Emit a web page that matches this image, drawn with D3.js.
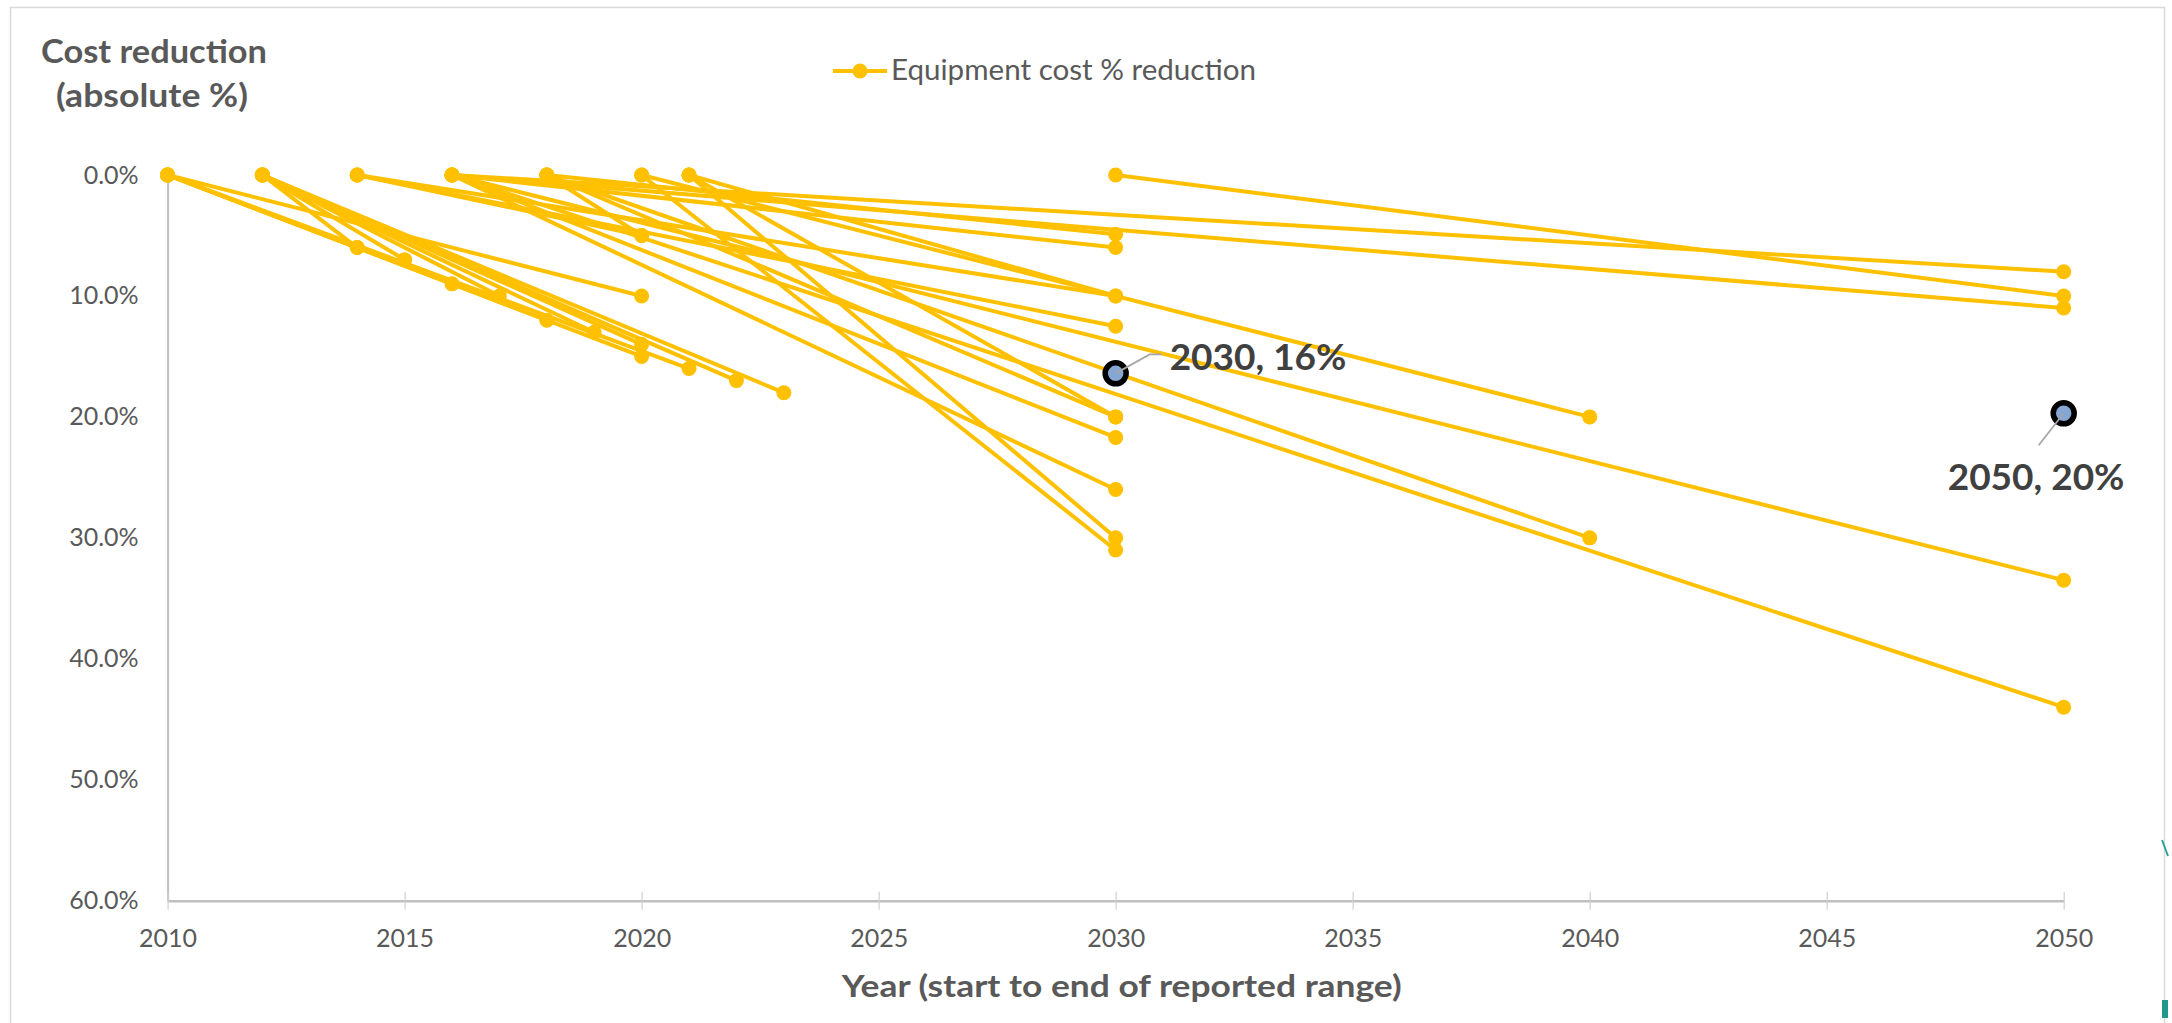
<!DOCTYPE html>
<html>
<head>
<meta charset="utf-8">
<script src="https://cdn.jsdelivr.net/npm/d3@7"></script>
<style>
  html, body { margin: 0; padding: 0; background: #ffffff; }
  svg { display: block; font-family: Lato, "Open Sans", "Noto Sans", sans-serif; }
</style>
</head>
<body>
<svg id="chart" width="2172" height="1023"></svg>
<script>
// Each reported range: cost is 0% at the start year, reduced by reductionPct at the end year.
const startYear    = [2010, 2010, 2010, 2010, 2010, 2010,
                      2012, 2012, 2012, 2012, 2012, 2012, 2012,
                      2014, 2014, 2014,
                      2016, 2016, 2016, 2016, 2016, 2016, 2016,
                      2018, 2018, 2018, 2018,
                      2020, 2020,
                      2021, 2021, 2021,
                      2030];
const endYear      = [2014, 2016, 2018, 2020, 2020, 2021,
                      2014, 2015, 2017, 2019, 2020, 2022, 2023,
                      2020, 2030, 2030,
                      2050, 2050, 2030, 2050, 2050, 2030, 2030,
                      2030, 2040, 2030, 2020,
                      2040, 2030,
                      2030, 2030, 2030,
                      2050];
const reductionPct = [6, 9, 12, 15, 10, 16,
                      6, 7, 10, 13, 14, 17, 18,
                      5, 12.5, 10,
                      8, 11, 6, 33.5, 44, 26, 21.7,
                      4.9, 30, 20, 5,
                      20, 31,
                      10, 20, 30,
                      10];

// Highlighted summary points
const markerYear = [2030, 2050];
const markerPct  = [16.4, 19.7];

const yTicks = [0, 10, 20, 30, 40, 50, 60];
const xTicks = [2010, 2015, 2020, 2025, 2030, 2035, 2040, 2045, 2050];

const legendLabel = "Equipment cost % reduction";
const yTitleLines = ["Cost reduction", "(absolute %)"];
const xTitle = "Year (start to end of reported range)";

const GOLD = "#FFC000";
const AXIS = "#bfbfbf";
const TEXT = "#595959";

const svg = d3.select("#chart");

const x = d3.scaleLinear().domain([2010, 2050]).range([167.6, 2063.7]);
const y = d3.scaleLinear().domain([0, 60]).range([175, 900.7]);

// squeeze text to a set width (narrow face look)
function fitWidth(sel, w) {
  sel.each(function () {
    const len = this.getComputedTextLength();
    if (Math.abs(len - w) / w > 0.02) {
      d3.select(this).attr("textLength", w).attr("lengthAdjust", "spacingAndGlyphs");
    }
  });
}

// chart-area frame
svg.append("rect")
  .attr("x", 10.5).attr("y", 7.5)
  .attr("width", 2154).attr("height", 1040)
  .attr("fill", "none").attr("stroke", "#d9d9d9").attr("stroke-width", 1.5);

// selection handles at the right edge
svg.append("path").attr("d", "M2162,840 L2168,856")
  .attr("stroke", "#2aa198").attr("stroke-width", 2).attr("fill", "none");
svg.append("rect").attr("x", 2162).attr("y", 1000).attr("width", 6).attr("height", 18)
  .attr("fill", "#1f9a8a");

// Y axis
const yAxis = svg.append("g")
  .attr("transform", `translate(${x(2010)},0)`)
  .call(d3.axisLeft(y).tickValues(yTicks).tickSize(0).tickSizeOuter(0).tickPadding(29)
    .tickFormat(d => d3.format(".1%")(d / 100)));
yAxis.select(".domain").attr("stroke", AXIS).attr("stroke-width", 2);
yAxis.selectAll("text").attr("fill", TEXT).attr("font-size", 25).attr("font-family", "Lato, sans-serif");

// X axis with ticks crossing the line
const xAxis = svg.append("g")
  .attr("transform", `translate(0,${y(60)})`)
  .call(d3.axisBottom(x).tickValues(xTicks).tickSize(9).tickSizeOuter(0).tickPadding(20)
    .tickFormat(d3.format("d")));
xAxis.select(".domain").attr("stroke", AXIS).attr("stroke-width", 2.5);
xAxis.selectAll(".tick line").attr("y1", -9).attr("stroke", "#d0d0d0").attr("stroke-width", 1.2);
xAxis.selectAll("text").attr("fill", TEXT).attr("font-size", 25).attr("font-family", "Lato, sans-serif");

// Axis titles
const yTitle = svg.append("g").attr("fill", TEXT).attr("font-weight", 700)
  .attr("font-size", 32).attr("text-anchor", "middle");
yTitle.append("text").attr("x", 154).attr("y", 63).text(yTitleLines[0]).call(fitWidth, 226);
yTitle.append("text").attr("x", 152).attr("y", 107).text(yTitleLines[1]).call(fitWidth, 192);

svg.append("text")
  .attr("x", (x(2010) + x(2050)) / 2 + 6).attr("y", 997)
  .attr("text-anchor", "middle").attr("fill", TEXT)
  .attr("font-weight", 700).attr("font-size", 31)
  .text(xTitle).call(fitWidth, 560);

// Legend
const legend = svg.append("g");
legend.append("line").attr("x1", 833).attr("x2", 887).attr("y1", 71).attr("y2", 71)
  .attr("stroke", GOLD).attr("stroke-width", 4);
legend.append("circle").attr("cx", 860).attr("cy", 71).attr("r", 7.5).attr("fill", GOLD);
legend.append("text").attr("x", 891).attr("y", 80).attr("fill", TEXT)
  .attr("font-size", 28).text(legendLabel).call(fitWidth, 365);

// Ranges
const ranges = startYear.map((s, i) => ({ s, e: endYear[i], v: reductionPct[i] }));
const line = d3.line().x(d => x(d[0])).y(d => y(d[1]));

const plot = svg.append("g");
plot.selectAll("path.range")
  .data(ranges)
  .join("path")
  .attr("class", "range")
  .attr("d", d => line([[d.s, 0], [d.e, d.v]]))
  .attr("fill", "none")
  .attr("stroke", GOLD)
  .attr("stroke-width", 4)
  .attr("stroke-linecap", "round");

const pts = ranges.flatMap(d => [[d.s, 0], [d.e, d.v]]);
plot.selectAll("circle.pt")
  .data(pts)
  .join("circle")
  .attr("class", "pt")
  .attr("cx", d => x(d[0]))
  .attr("cy", d => y(d[1]))
  .attr("r", 7.5)
  .attr("fill", GOLD);

// Highlighted points with leader lines and labels
const marks = markerYear.map((yr, i) => ({ yr, v: markerPct[i] }));
const hl = svg.append("g");
hl.selectAll("circle")
  .data(marks)
  .join("circle")
  .attr("cx", d => x(d.yr))
  .attr("cy", d => y(d.v))
  .attr("r", 10.5)
  .attr("fill", "#86a6d3")
  .attr("stroke", "#000")
  .attr("stroke-width", 5.5);

const leader = [
  (px, py) => `M${px},${py} L${px + 34},${py - 19} L${px + 46},${py - 19}`,
  (px, py) => `M${px},${py} L${px - 25},${py + 32}`
];
const labelOffset = [[54, -3], [-116, 77]];

marks.forEach((d, i) => {
  const px = x(d.yr), py = y(d.v);
  hl.append("path").attr("d", leader[i](px, py))
    .attr("fill", "none").attr("stroke", "#a6a6a6").attr("stroke-width", 1.8);
  hl.append("text")
    .attr("x", px + labelOffset[i][0]).attr("y", py + labelOffset[i][1])
    .attr("fill", "#404040").attr("font-weight", 700).attr("font-size", 37)
    .text(`${d.yr}, ${d3.format(".0f")(d.v)}%`)
    .call(fitWidth, 180);
});
</script>
</body>
</html>
